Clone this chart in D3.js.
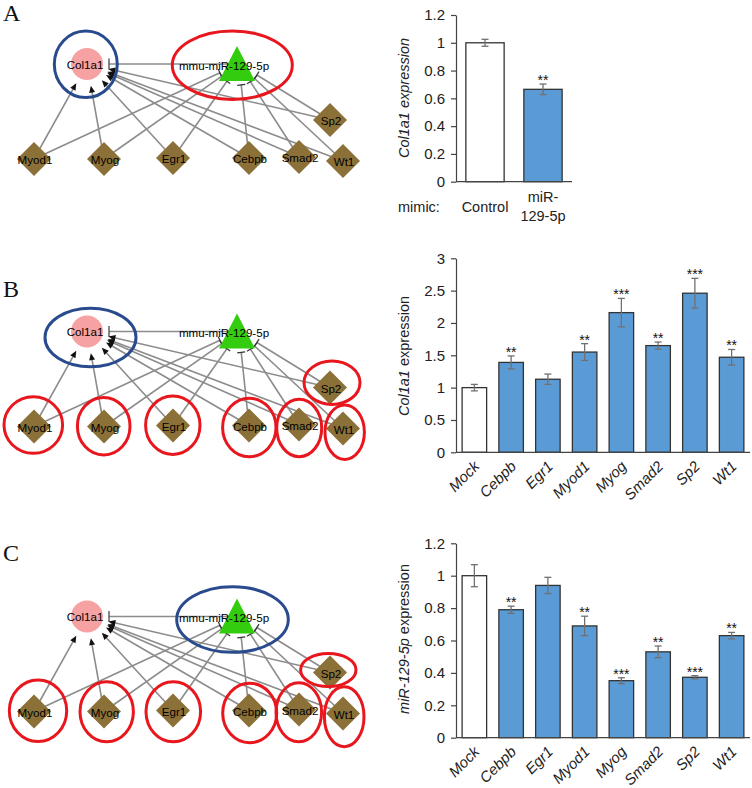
<!DOCTYPE html>
<html><head><meta charset="utf-8">
<script src="https://cdn.jsdelivr.net/npm/d3@7"></script>
<style>body{margin:0;background:#fff} svg{display:block}</style>
</head><body><svg id="c" width="752" height="788"></svg>
<script>
// ---------------- data ----------------
const groupsA = ["Control", "miR-129-5p"];
const valuesA = [1.0, 0.665];
const errorsA = [0.025, 0.038];
const starsA  = ["", "**"];
const ticksA  = [0, 0.2, 0.4, 0.6, 0.8, 1, 1.2];

const categories = ["Mock", "Cebpb", "Egr1", "Myod1", "Myog", "Smad2", "Sp2", "Wt1"];
const valuesB = [1.0, 1.39, 1.13, 1.55, 2.16, 1.65, 2.46, 1.47];
const errorsB = [0.05, 0.10, 0.08, 0.13, 0.22, 0.055, 0.23, 0.12];
const starsB  = ["", "**", "", "**", "***", "**", "***", "**"];
const ticksB  = [0, 0.5, 1, 1.5, 2, 2.5, 3];

const valuesC = [1.0, 0.79, 0.94, 0.69, 0.352, 0.53, 0.373, 0.63];
const errorsC = [0.068, 0.022, 0.05, 0.06, 0.018, 0.036, 0.01, 0.02];
const starsC  = ["", "**", "", "**", "***", "**", "***", "**"];
const ticksC  = [0, 0.2, 0.4, 0.6, 0.8, 1, 1.2];

const geneNode = "Col1a1";
const mirNode = "mmu-miR-129-5p";
const tfNodes = ["Myod1", "Myog", "Egr1", "Cebpb", "Smad2", "Wt1", "Sp2"];

// ---------------- layout (positions only) ----------------
const tfPos = {Myod1:[34,159], Myog:[104,159], Egr1:[173,158], Cebpb:[249,158], Smad2:[299,157], Wt1:[343,161], Sp2:[330,120]};
const genePos = [87, 64];
const mirPos = [239, 64];
const panelDy = [0, 267.5, 552.5];
const highlights = [
  {blue:[[85.8,64.3,31.5,33.3]], red:[[232.3,65.2,60,34.2]]},
  {blue:[[90.5,70,45.5,29.2]], red:[[33.3,157.5,29.3,28.3],[103.7,158.7,26.3,28.8],[172.8,157.7,27.2,29.2],[249.3,160,26.7,29.2],[299.2,160.5,22.5,28.7],[344.7,164.7,19.7,27.2],[332,115.2,28,21.7]]},
  {blue:[[232.5,67,55.8,32.8]], red:[[38,158.3,28.7,30.8],[106.7,159.2,26.7,30],[173.3,159.2,27.3,30],[249.7,160.5,27,29.7],[298.8,159.7,22.8,29.5],[344.2,164.2,19.8,30],[328.3,117.5,27.7,16.5]]}
];

const svg = d3.select("#c");
const FONT = "'Liberation Sans', Arial, sans-serif";
const SERIF = "'Liberation Serif', 'Times New Roman', serif";

// panel letters
[["A",21],["B",297],["C",561]].forEach(([t,y]) => {
  svg.append("text").attr("x",3).attr("y",y).attr("font-family",SERIF).attr("font-size",24).attr("fill","#111").text(t);
});

// ---------------- network ----------------
const edgeColor = "#8c8c8c";
function network(pi) {
  const g = svg.append("g").attr("transform", `translate(0,${panelDy[pi]})`);
  const eg = g.append("g");
  // miR -| Col1a1
  eg.append("line").attr("x1", mirPos[0]).attr("y1", mirPos[1]).attr("x2", genePos[0]+22).attr("y2", genePos[1])
    .attr("stroke", edgeColor).attr("stroke-width", 1.6);
  eg.append("line").attr("x1", genePos[0]+22).attr("x2", genePos[0]+22).attr("y1", genePos[1]-5.5).attr("y2", genePos[1]+5.5)
    .attr("stroke", "#555").attr("stroke-width", 1.4);
  tfNodes.forEach(tf => {
    const P = tfPos[tf];
    // TF -> Col1a1 arrow
    let dx = genePos[0]-P[0], dy = genePos[1]-P[1], L = Math.hypot(dx,dy);
    let ux = dx/L, uy = dy/L, px = -uy, py = ux;
    const E = [genePos[0]-ux*22, genePos[1]-uy*22];
    eg.append("line").attr("x1",P[0]).attr("y1",P[1]).attr("x2",E[0]-ux*5).attr("y2",E[1]-uy*5)
      .attr("stroke", edgeColor).attr("stroke-width", 1.6);
    eg.append("path").attr("d", d3.line()([[E[0],E[1]],[E[0]-ux*7+px*3,E[1]-uy*7+py*3],[E[0]-ux*7-px*3,E[1]-uy*7-py*3]]) + "Z")
      .attr("fill", "#111");
    // TF -| miR
    dx = mirPos[0]-P[0]; dy = mirPos[1]-P[1]; L = Math.hypot(dx,dy);
    ux = dx/L; uy = dy/L; px = -uy; py = ux;
    const F = [mirPos[0]-ux*21, mirPos[1]-uy*21];
    eg.append("line").attr("x1",P[0]).attr("y1",P[1]).attr("x2",F[0]).attr("y2",F[1])
      .attr("stroke", edgeColor).attr("stroke-width", 1.6);
    eg.append("line").attr("x1",F[0]+px*4).attr("y1",F[1]+py*4).attr("x2",F[0]-px*4).attr("y2",F[1]-py*4)
      .attr("stroke", "#333").attr("stroke-width", 1.2);
  });
  // nodes
  g.append("circle").attr("cx", genePos[0]).attr("cy", genePos[1]).attr("r", 16).attr("fill", "#f7a2a2");
  g.append("path").attr("d", d3.line()([[237,46],[219,81],[255,81]]) + "Z").attr("fill", "#33cc0f");
  tfNodes.forEach(tf => {
    const P = tfPos[tf], h = 17;
    g.append("path").attr("d", d3.line()([[P[0],P[1]-h],[P[0]+h,P[1]],[P[0],P[1]+h],[P[0]-h,P[1]]]) + "Z").attr("fill", "#8b7138");
  });
  // labels
  const lab = (t, x, y) => g.append("text").attr("x", x).attr("y", y).attr("text-anchor","middle").attr("dominant-baseline","central")
      .attr("font-family", FONT).attr("font-size", 11.6).attr("fill","#000").text(t);
  lab(geneNode, 85, genePos[1]);
  lab(mirNode, 224, 65);
  tfNodes.forEach(tf => lab(tf, tfPos[tf][0]+1, tfPos[tf][1]+0.5));
  // highlight ellipses
  const hl = highlights[pi];
  hl.blue.forEach(e => g.append("ellipse").attr("cx",e[0]).attr("cy",e[1]).attr("rx",e[2]).attr("ry",e[3])
      .attr("fill","none").attr("stroke","#294b8e").attr("stroke-width",3));
  hl.red.forEach(e => g.append("ellipse").attr("cx",e[0]).attr("cy",e[1]).attr("rx",e[2]).attr("ry",e[3])
      .attr("fill","none").attr("stroke","#e8161d").attr("stroke-width",3));
}
[0,1,2].forEach(network);

// ---------------- bar charts ----------------
function barChart(cfg) {
  const {cats, vals, errs, stars, ticks, yMax, x0, x1, yTop, yBottom, padding} = cfg;
  const x = d3.scaleBand().domain(cats).range([x0, x1]).paddingInner(padding).paddingOuter(padding/2);
  const y = d3.scaleLinear().domain([0, yMax]).range([yBottom, yTop]);
  const g = svg.append("g");
  g.selectAll("rect").data(cats).join("rect")
    .attr("x", d => x(d)).attr("y", (d,i) => y(vals[i]))
    .attr("width", x.bandwidth()).attr("height", (d,i) => y(0) - y(vals[i]))
    .attr("fill", (d,i) => i === 0 ? "#ffffff" : "#5b9bd5")
    .attr("stroke", "#333").attr("stroke-width", 1.3);
  const eb = g.append("g").attr("stroke", "#707070").attr("stroke-width", 1.3);
  cats.forEach((c,i) => {
    const cx = x(c) + x.bandwidth()/2, t = y(vals[i]+errs[i]), b = y(vals[i]-errs[i]);
    eb.append("line").attr("x1",cx).attr("x2",cx).attr("y1",t).attr("y2",b);
    eb.append("line").attr("x1",cx-3.5).attr("x2",cx+3.5).attr("y1",t).attr("y2",t);
    eb.append("line").attr("x1",cx-3.5).attr("x2",cx+3.5).attr("y1",b).attr("y2",b);
    if (stars[i]) g.append("text").attr("x",cx).attr("y",t+1).attr("text-anchor","middle")
      .attr("font-family",FONT).attr("font-size",14).attr("fill","#111").text(stars[i]);
  });
  const ya = g.append("g").attr("transform", `translate(${x0},0)`)
    .call(d3.axisLeft(y).tickValues(ticks).tickSize(5).tickSizeOuter(0).tickPadding(6).tickFormat(d3.format("~g")));
  ya.select(".domain").attr("stroke", "#444").attr("stroke-width", 1.2);
  ya.selectAll(".tick line").attr("stroke", "#444").attr("stroke-width", 1.2);
  ya.selectAll(".tick text").attr("font-family", FONT).attr("font-size", 15).attr("fill", "#222");
  g.append("line").attr("x1", x0).attr("x2", x1).attr("y1", y(0)).attr("y2", y(0)).attr("stroke", "#444").attr("stroke-width", 1.2);
  return {x, y, g};
}

function yLabel(parts, cx, cy) {
  const t = svg.append("text").attr("transform", `translate(${cx},${cy}) rotate(-90)`).attr("text-anchor","middle")
    .attr("font-family", FONT).attr("font-size", 14.5).attr("fill","#222");
  parts.forEach(([s, it]) => t.append("tspan").attr("font-style", it ? "italic" : "normal").text(s));
}

// Panel A chart
const A = barChart({cats: groupsA, vals: valuesA, errs: errorsA, stars: starsA, ticks: ticksA, yMax: 1.2,
  x0: 456, x1: 572, yTop: 15, yBottom: 181.7, padding: 0.34});
yLabel([["Col1a1 expression", true]], 409, 98);
svg.append("text").attr("x", 398).attr("y", 212).attr("font-family", FONT).attr("font-size", 14.5).attr("fill","#222").text("mimic:");
const cA = A.x("Control") + A.x.bandwidth()/2, mA = A.x("miR-129-5p") + A.x.bandwidth()/2;
svg.append("text").attr("x", cA).attr("y", 212).attr("text-anchor","middle").attr("font-family", FONT).attr("font-size", 14.5).attr("fill","#222").text("Control");
svg.append("text").attr("x", mA).attr("y", 202).attr("text-anchor","middle").attr("font-family", FONT).attr("font-size", 14.5).attr("fill","#222").text("miR-");
svg.append("text").attr("x", mA).attr("y", 221).attr("text-anchor","middle").attr("font-family", FONT).attr("font-size", 14.5).attr("fill","#222").text("129-5p");

function rotLabels(ch, yAxis) {
  categories.forEach(c => {
    const cx = ch.x(c) + ch.x.bandwidth()/2;
    svg.append("text").attr("transform", `translate(${cx+6},${yAxis+15}) rotate(-45)`).attr("text-anchor","end")
      .attr("font-family", FONT).attr("font-size", 15).attr("font-style","italic").attr("fill","#222").text(c);
  });
}

const B = barChart({cats: categories, vals: valuesB, errs: errorsB, stars: starsB, ticks: ticksB, yMax: 3,
  x0: 456, x1: 750, yTop: 258.3, yBottom: 452.3, padding: 0.333});
yLabel([["Col1a1", true], [" expression", false]], 409, 356);
rotLabels(B, 452.3);

const C = barChart({cats: categories, vals: valuesC, errs: errorsC, stars: starsC, ticks: ticksC, yMax: 1.2,
  x0: 456, x1: 750, yTop: 543.3, yBottom: 737.7, padding: 0.333});
yLabel([["miR-129-5p", true], [" expression", false]], 409, 639);
rotLabels(C, 737.7);
</script>
</body></html>
